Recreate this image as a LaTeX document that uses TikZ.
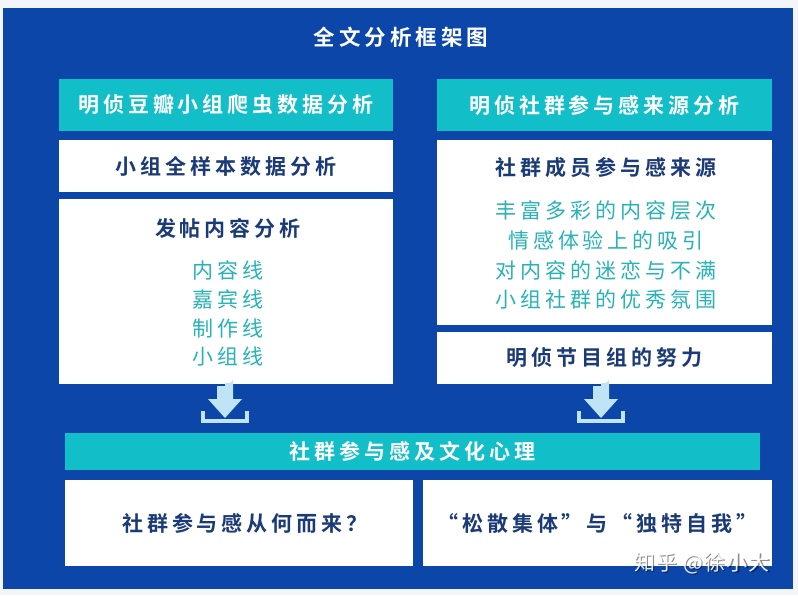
\documentclass[tikz,border=0pt]{standalone}
\usepackage{fontspec}
\newfontfamily\cjkr[LetterSpace=19,BoldFont={Noto Sans CJK SC Bold}]{Noto Sans CJK SC}
\newfontfamily\cjkw[LetterSpace=6]{Noto Sans CJK SC}
\definecolor{bgblue}{HTML}{0B46A8}
\definecolor{tealbar}{HTML}{12BEC8}
\definecolor{darktxt}{HTML}{1B3A78}
\definecolor{tealtxt}{HTML}{27B3B6}
\definecolor{arrowc}{HTML}{BEE4F6}
\definecolor{outer}{HTML}{F3F5F8}
\tikzset{
  hdr/.style={fill=tealbar, draw=none, inner sep=0pt, text=white, font=\cjkr\bfseries\fontsize{21}{25}\selectfont},
  wbox/.style={fill=white, draw=none, inner sep=0pt, text=darktxt, font=\cjkr\bfseries\fontsize{21}{25}\selectfont},
  dk/.style={inner sep=0pt, text=darktxt, font=\cjkr\bfseries\fontsize{21}{25}\selectfont},
  lt/.style={inner sep=0pt, text=tealtxt, font=\cjkr\fontsize{21}{25}\selectfont},
  ttl/.style={inner sep=0pt, text=white, font=\cjkr\bfseries\fontsize{21.5}{25}\selectfont},
  arr/.style={fill=arrowc, draw=none},
  tray/.style={draw=arrowc, line width=4pt},
}
\begin{document}
\begin{tikzpicture}[x=1pt,y=-1pt]
\path[use as bounding box, fill=outer] (0,0) rectangle (798,595);
\fill[bgblue] (3,8) rectangle (793,589);
\node[ttl] (title) at (401,37) {全文分析框架图};
% headers
\node[hdr, minimum width=334pt, minimum height=52pt] (lh) at (226,105) {明侦豆瓣小组爬虫数据分析};
\node[hdr, minimum width=335pt, minimum height=52pt] (rh) at (604.5,105) {明侦社群参与感来源分析};
% left column
\node[wbox, minimum width=334pt, minimum height=52pt] (l1) at (226,166) {小组全样本数据分析};
\node[wbox, minimum width=334pt, minimum height=185pt] (l2) at (226,291.5) {};
\node[dk] (l2t) at (228,228) {发帖内容分析};
\node[lt] (l2a) at (228,270) {内容线};
\node[lt] (l2b) at (228,299) {嘉宾线};
\node[lt] (l2c) at (228,328) {制作线};
\node[lt] (l2d) at (228,357) {小组线};
% right column
\node[wbox, minimum width=335pt, minimum height=185pt] (r1) at (604.5,232.5) {};
\node[dk] (r1t) at (606,168) {社群成员参与感来源};
\node[lt] (r1a) at (606,211) {丰富多彩的内容层次};
\node[lt] (r1b) at (606,240) {情感体验上的吸引};
\node[lt] (r1c) at (606,270) {对内容的迷恋与不满};
\node[lt] (r1d) at (606,299) {小组社群的优秀氛围};
\node[wbox, minimum width=335pt, minimum height=52pt] (r2) at (604.5,358) {明侦节目组的努力};
% bottom
\node[hdr, minimum width=695pt, minimum height=37pt] (bh) at (412.5,451.5) {社群参与感及文化心理};
\node[wbox, minimum width=348pt, minimum height=86pt] (b1) at (239,523) {};
\node[dk] (b1t) at (245,523) {社群参与感从何而来？};
\node[wbox, minimum width=349pt, minimum height=86pt] (b2) at (597.5,523) {“松散集体”与“独特自我”};
% arrows
\foreach \c/\n in {225/la, 601/ra}{
  \fill[arr] (\c-8,400) -- (\c-8,387) arc[start angle=180,end angle=0,radius=4] -- (\c+0,383) -- (\c+4,383) arc[start angle=90,end angle=0,radius=4] -- (\c+8,400) -- cycle;
  \fill[arr] (\c-8,386) rectangle (\c+8,400);
  \fill[arr] (\c-17,399) -- (\c+17,399) -- (\c,418) -- cycle;
  \draw[tray] (\c-22,411) -- (\c-22,421) -- (\c+22,421) -- (\c+22,411);
}
% watermark
\node[inner sep=0pt, text=black, opacity=0.45, font=\cjkw\fontsize{21}{24}\selectfont] (wms) at (703.5,564.5) {知乎 @徐小大};
\node[inner sep=0pt, text=white, opacity=0.9, font=\cjkw\fontsize{21}{24}\selectfont] (wm) at (702,563) {知乎 @徐小大};
\end{tikzpicture}
\end{document}
